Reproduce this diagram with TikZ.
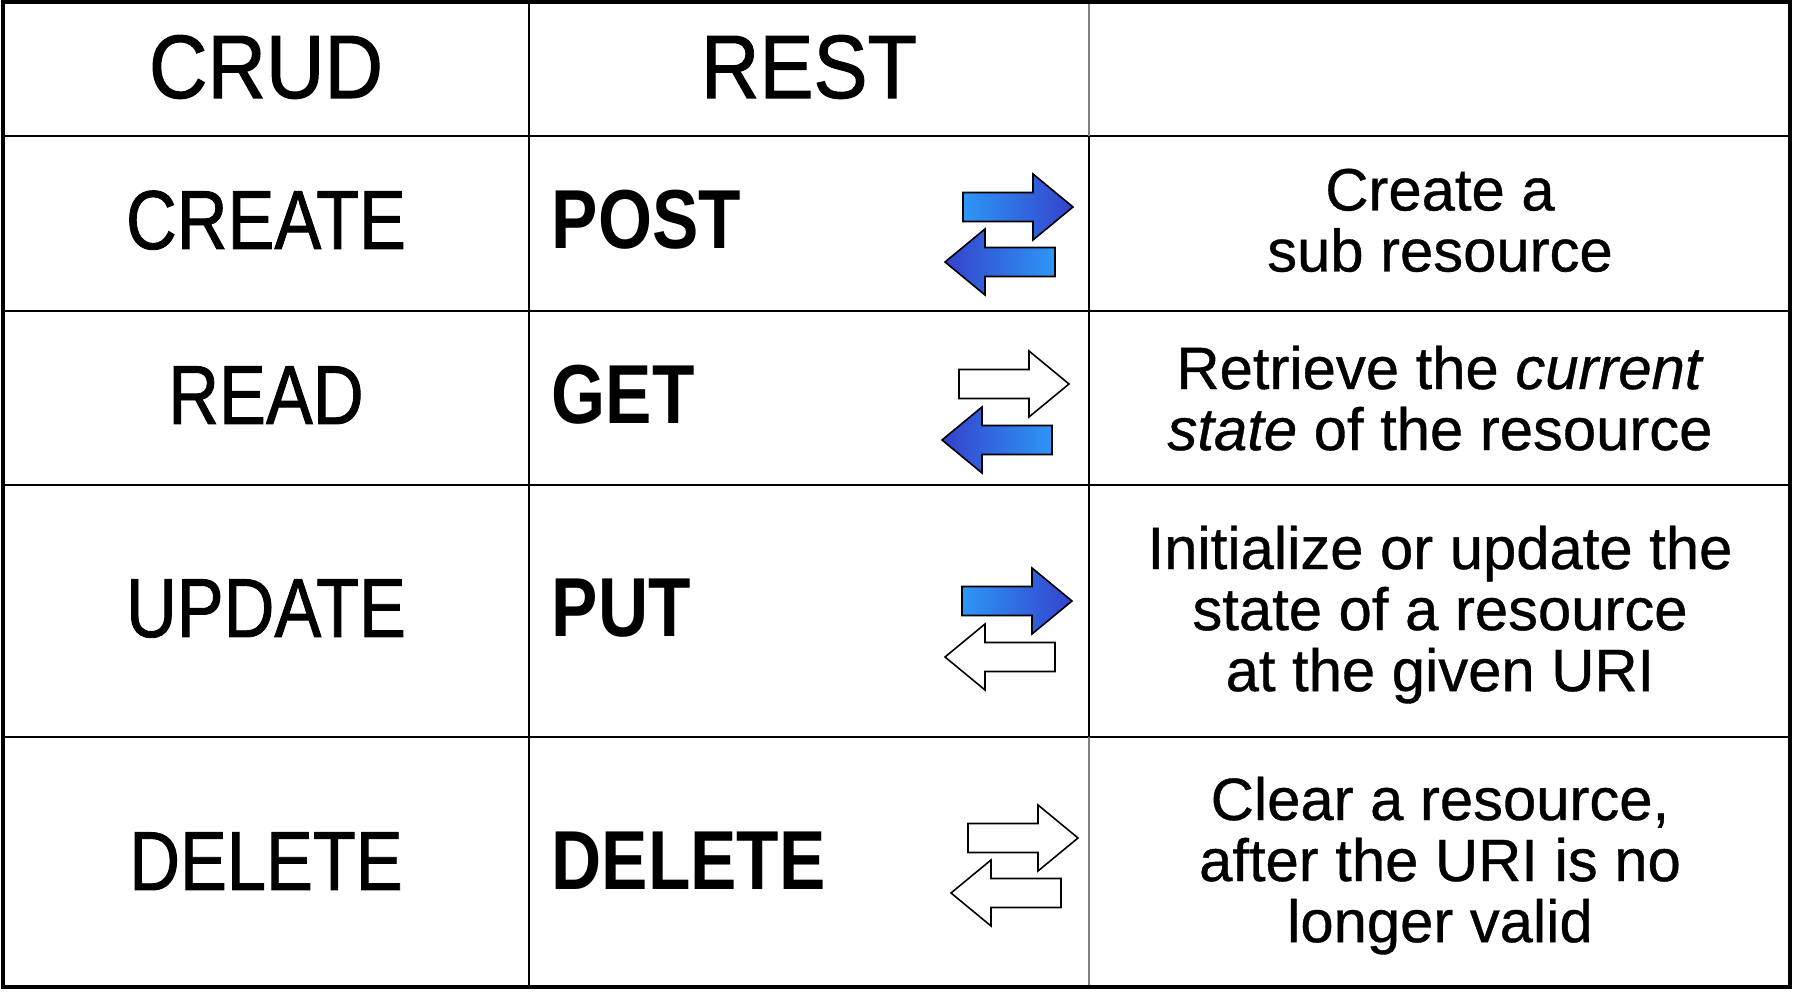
\documentclass[tikz,border=0pt]{standalone}
\usepackage{fontspec}
\setmainfont[FakeBold=0.6]{Liberation Sans}
\newfontfamily\headfont[FakeStretch=0.9,FakeBold=1.2]{Liberation Sans}
\newfontfamily\opfont[FakeStretch=0.84,FakeBold=1.0]{Liberation Sans}
\newfontfamily\verbfont[FakeStretch=0.83]{Liberation Sans}

\definecolor{arrowlight}{RGB}{46,150,246}
\definecolor{arrowdark}{RGB}{52,66,204}
\definecolor{thingrid}{RGB}{128,128,128}

% block arrows: #1,#2 = tip position, #3 = fill style
\newcommand\rightblock[3]{\path[blockarrow,#3] (#1,#2) -- ++(-40,-33) -- ++(0,18.5) -- ++(-70,0) -- ++(0,29) -- ++(70,0) -- ++(0,18.5) -- cycle;}
\newcommand\leftblock[3]{\path[blockarrow,#3] (#1,#2) -- ++(40,-33) -- ++(0,18.5) -- ++(70,0) -- ++(0,29) -- ++(-70,0) -- ++(0,18.5) -- cycle;}

\tikzset{
  frame/.style={draw=black, line width=1.3pt},
  rule/.style={draw=black, line width=0.75pt},
  softrule/.style={draw=thingrid, line width=0.45pt},
  headtxt/.style={font=\headfont\fontsize{25.6}{28}\selectfont, inner sep=0pt, anchor=base},
  optxt/.style={font=\opfont\fontsize{23.8}{26}\selectfont, inner sep=0pt, anchor=base},
  verbtxt/.style={font=\verbfont\bfseries\fontsize{23.8}{26}\selectfont, inner sep=0pt, anchor=base west},
  desc/.style={font=\fontsize{17}{17.36}\selectfont, align=center, inner sep=0pt, anchor=north},
  blockarrow/.style={draw=black, line width=0.45pt, line join=miter},
  bluer/.style={left color=arrowlight, right color=arrowdark},
  bluel/.style={left color=arrowdark, right color=arrowlight},
  hollow/.style={fill=white}
}

\begin{document}
\begin{tikzpicture}[x=0.01cm, y=-0.01cm]
\useasboundingbox (0,0) rectangle (1796,995);
\fill[white] (0,0) rectangle (1796,995);

% table rules
\draw[rule] (3,136) -- (1790,136);
\draw[rule] (3,311) -- (1790,311);
\draw[rule] (3,485) -- (1790,485);
\draw[rule] (3,737) -- (1790,737);
\draw[rule] (529,2) -- (529,987);
\draw[softrule] (1089,2) -- (1089,136);
\draw[rule] (1089,136) -- (1089,737);
\draw[softrule] (1089,737) -- (1089,987);
\draw[frame] (3,2) rectangle (1790,987);

% header
\node[headtxt] (crud) at (266,98) {CRUD};
\node[headtxt] (rest) at (809,98) {REST};

% CRUD operations
\node[optxt] (opc) at (266,249) {CREATE};
\node[optxt] (opr) at (266,424) {READ};
\node[optxt] (opu) at (266,637) {UPDATE};
\node[optxt] (opd) at (266,890) {DELETE};

% HTTP verbs
\node[verbtxt] (vpost) at (551,249) {POST};
\node[verbtxt] (vget) at (551,424) {GET};
\node[verbtxt] (vput) at (551,637) {PUT};
\node[verbtxt] (vdel) at (551,890) {DELETE};

% request / response arrows
\rightblock{1073}{207}{bluer}
\leftblock{945}{262}{bluel}
\rightblock{1069}{384}{hollow}
\leftblock{942}{440}{bluel}
\rightblock{1072}{601}{bluer}
\leftblock{945}{657}{hollow}
\rightblock{1078}{838}{hollow}
\leftblock{951}{893}{hollow}

% descriptions
\node[desc] (dc) at (1440,168) {Create a\\sub resource};
\node[desc] (dr) at (1440,345) {Retrieve the \textit{current}\\\textit{state} of the resource};
\node[desc] (du) at (1440,525) {Initialize or update the\\state of a resource\\at the given URI};
\node[desc] (dd) at (1440,776) {Clear a resource,\\after the URI is no\\longer valid};
\end{tikzpicture}
\end{document}
